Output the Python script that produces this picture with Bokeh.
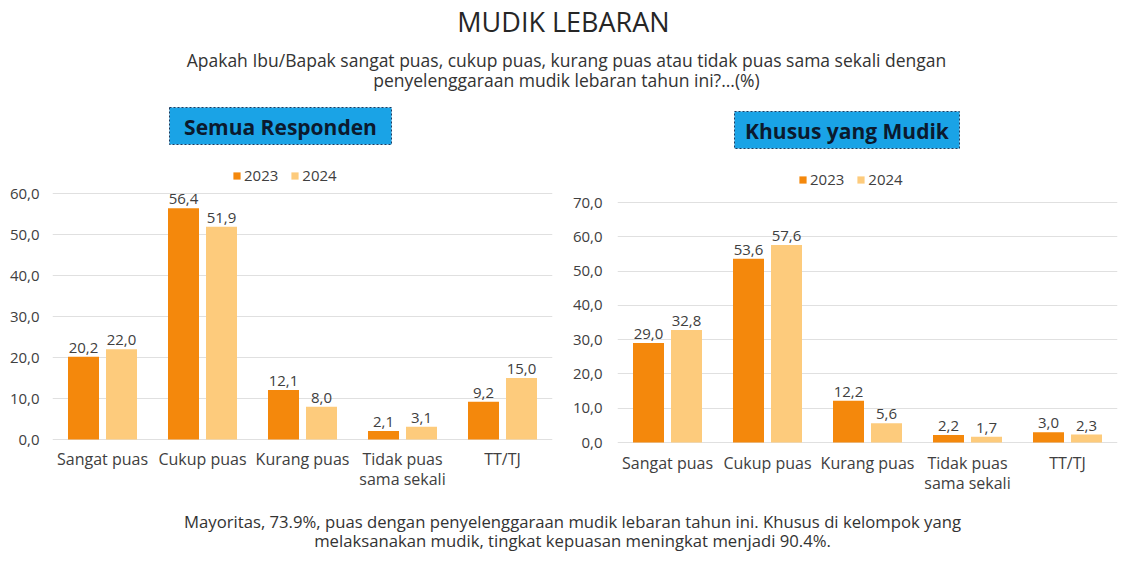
from bokeh.plotting import figure
from bokeh.layouts import column, row
from bokeh.models import Range1d, FactorRange, ColumnDataSource, Legend, LegendItem, FixedTicker
from bokeh.transform import dodge
from bokeh.core.properties import value
from bokeh.embed import file_html
from bokeh.resources import INLINE

# ---------------- data ----------------
title = "MUDIK LEBARAN"
subtitle = [
    "Apakah Ibu/Bapak sangat puas, cukup puas, kurang puas atau tidak puas sama sekali dengan",
    "penyelenggaraan mudik lebaran tahun ini?...(%)",
]
footer = [
    "Mayoritas, 73.9%, puas dengan penyelenggaraan mudik lebaran tahun ini. Khusus di kelompok yang",
    "melaksanakan mudik, tingkat kepuasan meningkat menjadi 90.4%.",
]
panel_titles = ["Semua Responden", "Khusus yang Mudik"]
categories = ["Sangat puas", "Cukup puas", "Kurang puas", "Tidak puas sama sekali", "TT/TJ"]
category_labels = ["Sangat puas", "Cukup puas", "Kurang puas", "Tidak puas\nsama sekali", "TT/TJ"]
years = ["2023", "2024"]
semua_2023 = [20.2, 56.4, 12.1, 2.1, 9.2]
semua_2024 = [22.0, 51.9, 8.0, 3.1, 15.0]
mudik_2023 = [29.0, 53.6, 12.2, 2.2, 3.0]
mudik_2024 = [32.8, 57.6, 5.6, 1.7, 2.3]
semua_ticks = [0, 10, 20, 30, 40, 50, 60]
mudik_ticks = [0, 10, 20, 30, 40, 50, 60, 70]

C23 = "#F4880C"
C24 = "#FDCB7C"
FONT = "Open Sans"
TXT = "#404040"


def fmt(v):
    return f"{v:.1f}".replace(".", ",")


def make_chart(v23, v24, ticks, y_start, y_end, width, height, mb_left, mb_right,
               y_standoff, lab_off, legend_loc):
    p = figure(width=width, height=height, x_range=FactorRange(*categories),
               y_range=Range1d(y_start, y_end), output_backend="svg", toolbar_location=None,
               x_axis_location=None,
               min_border_left=mb_left, min_border_right=mb_right,
               min_border_top=4, min_border_bottom=2)
    p.outline_line_color = None
    p.background_fill_color = "white"
    src = ColumnDataSource(dict(cat=categories, v23=v23, v24=v24,
                                l23=[fmt(v) for v in v23], l24=[fmt(v) for v in v24]))
    r23 = p.vbar(x=dodge("cat", -0.19, range=p.x_range), top="v23", width=0.31, source=src,
                 fill_color=C23, line_color=None)
    r24 = p.vbar(x=dodge("cat", 0.19, range=p.x_range), top="v24", width=0.31, source=src,
                 fill_color=C24, line_color=None)
    for off, col in ((-0.19, "l23"), (0.19, "l24")):
        p.text(x=dodge("cat", off, range=p.x_range), y=col.replace("l", "v"), text=col, source=src,
               text_font=value(FONT), text_font_size="15px", text_color=TXT,
               text_align="center", text_baseline="bottom", y_offset=-4)
    # category labels (two lines where needed)
    lines = [lab.split("\n") for lab in category_labels]
    csrc = ColumnDataSource(dict(cat=categories, zero=[0] * len(categories),
                                 l1=[ln[0] for ln in lines],
                                 l2=[ln[1] if len(ln) > 1 else "" for ln in lines]))
    for col, off in (("l1", lab_off), ("l2", lab_off + 20)):
        p.text(x="cat", y="zero", text=col, source=csrc, y_offset=off,
               text_font=value(FONT), text_font_size="16px", text_color=TXT,
               text_align="center", text_baseline="middle")
    # y axis
    p.yaxis.ticker = FixedTicker(ticks=ticks)
    p.yaxis.major_label_overrides = {t: fmt(t) for t in ticks}
    p.yaxis.axis_line_color = None
    p.yaxis.major_tick_line_color = None
    p.yaxis.minor_tick_line_color = None
    p.yaxis.major_tick_out = 0
    p.yaxis.major_tick_in = 0
    p.yaxis.major_label_standoff = y_standoff
    p.yaxis.major_label_text_font = FONT
    p.yaxis.major_label_text_font_size = "15px"
    p.yaxis.major_label_text_color = TXT
    p.xgrid.grid_line_color = None
    p.ygrid.grid_line_color = "#E0E0E0"
    p.ygrid.ticker = FixedTicker(ticks=ticks)
    legend = Legend(items=[LegendItem(label=years[0], renderers=[r23]),
                           LegendItem(label=years[1], renderers=[r24])],
                    orientation="horizontal", location=legend_loc,
                    glyph_width=9, glyph_height=9, label_standoff=3, spacing=12,
                    padding=0, margin=0, label_height=20,
                    label_text_font=FONT, label_text_font_size="15px", label_text_color=TXT,
                    background_fill_alpha=0, border_line_alpha=0)
    p.add_layout(legend, "center")
    return p


def text_fig(w, h):
    p = figure(width=w, height=h, x_range=Range1d(0, w), y_range=Range1d(h, 0),
               output_backend="svg", toolbar_location=None,
               x_axis_location=None, y_axis_location=None,
               min_border=0, min_border_left=0, min_border_right=0, min_border_top=0, min_border_bottom=0)
    p.outline_line_color = None
    p.xgrid.visible = False
    p.ygrid.visible = False
    return p


W = 1124
# header
hdr = text_fig(W, 162)
hdr.text(x=[563], y=[21], text=[title], text_font=value(FONT), text_font_size="27px",
         text_color="#262626", text_align="center", text_baseline="alphabetic")
hdr.text(x=[566, 566], y=[59, 79], text=subtitle, text_font=value(FONT), text_font_size="17.5px",
         text_color="#333333", text_align="center", text_baseline="middle")
box_l = [169, 734]
box_r = [391, 959]
box_t = [107, 111]
box_b = [144, 148]
hdr.quad(left=box_l, right=box_r, top=box_t, bottom=box_b, fill_color="#1AA3E6",
         line_color="#1F3A5F", line_dash="2 2", line_width=1)
hdr.text(x=[(a + b) / 2 for a, b in zip(box_l, box_r)], y=[(a + b) / 2 + 1 for a, b in zip(box_t, box_b)],
         text=panel_titles, text_font=value(FONT), text_font_size="21px", text_font_style="bold",
         text_color="#0B1A2E", text_align="center", text_baseline="middle")

# left: 4.1 px/unit, 0 at row y 277; right: 3.4286 px/unit, 0 at row y 280
left = make_chart(semua_2023, semua_2024, semua_ticks, -12.44, 66.6, 560, 330, 52, 8, 13, 19, (180, 305))
right = make_chart(mudik_2023, mudik_2024, mudik_ticks, -14.0, 80.5, 564, 330, 57, 7, 15, 20, (181, 301))

ftr = text_fig(W, 62)
ftr.text(x=[572, 572], y=[29, 48], text=footer, text_font=value(FONT), text_font_size="16.7px",
         text_color="#333333", text_align="center", text_baseline="middle")

layout = column(hdr, row(left, right), ftr)
open("out.html", "w").write(file_html(layout, INLINE))
